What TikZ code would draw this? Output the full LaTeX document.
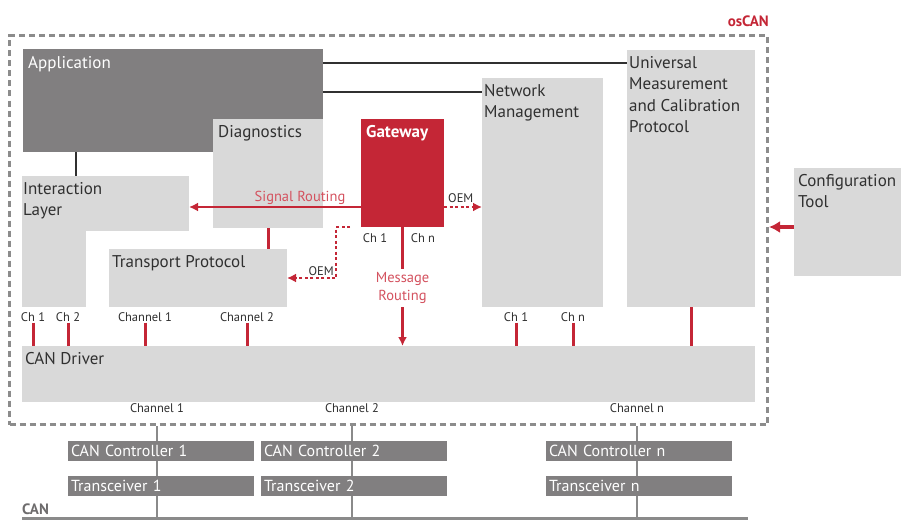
\documentclass[tikz,border=0pt]{standalone}
\usepackage{fontspec}
\setmainfont{PT Sans}
\usetikzlibrary{positioning,arrows.meta}
\definecolor{appgray}{HTML}{817F80}
\definecolor{boxgray}{HTML}{D9D9D9}
\definecolor{gwred}{HTML}{C42636}
\definecolor{routered}{HTML}{D4525F}
\definecolor{framegray}{HTML}{8C8C8C}
\definecolor{textgray}{HTML}{303030}
\definecolor{busgray}{HTML}{8A8A8A}
\tikzset{
	layer/.style={
		rectangle,
		fill=boxgray,
		anchor=north west,
		inner sep=0pt,
		outer sep=0pt,
	},
	dark-layer/.style={
		layer,
		fill=appgray,
	},
	gateway/.style={
		layer,
		fill=gwred,
	},
	box-title/.style={
		anchor=north west,
		align=left,
		inner xsep=3pt,
		inner ysep=6pt,
		text=textgray,
		font=\fontsize{17}{21.5}\selectfont,
	},
	hw-box/.style={
		rectangle,
		fill=appgray,
		minimum width=186pt,
		minimum height=20pt,
		inner xsep=3pt,
		inner ysep=0pt,
		outer sep=0pt,
		text=white,
		text width=180pt,
		align=left,
		font=\fontsize{16}{18}\selectfont,
	},
	ch-label/.style={
		inner sep=1pt,
		text=textgray,
		font=\fontsize{12.5}{14}\selectfont,
	},
	ch-line/.style={
		draw=gwred,
		line width=3pt,
	},
	link/.style={
		draw=textgray,
		line width=2.5pt,
	},
	routing/.style={
		draw=gwred,
		line width=2.5pt,
		-{Latex[length=9pt,width=9pt]},
	},
	oem/.style={
		routing,
		dash pattern=on 3pt off 2.5pt,
	},
	route-label/.style={
		inner sep=2pt,
		align=center,
		text=routered,
		font=\fontsize{14.5}{18}\selectfont,
	},
	bus-line/.style={
		draw=busgray,
		line width=2.5pt,
	},
}

\begin{document}
\begin{tikzpicture}[x=1pt,y=-1pt]
	\path[use as bounding box,clip] (0,0) rectangle (901,522);

	% osCAN frame
	\node[draw=framegray,line width=3pt,dash pattern=on 6pt off 4pt,anchor=north west,inner sep=0pt,minimum width=758pt,minimum height=389pt] (oscan) at (8,34) {};
	\node[anchor=base east,inner sep=0pt,yshift=7pt,text=gwred,font=\bfseries\fontsize{15}{17}\selectfont] (oscan-t) at (oscan.north east) {osCAN};

	% layers
	\node[dark-layer,minimum width=300pt,minimum height=103pt] (app) at (23,49) {};
	\node[box-title,text=white,inner xsep=5pt,inner ysep=7pt] (app-t) at (app.north west) {Application};
	\node[layer,minimum width=110pt,minimum height=109pt] (diag) at (213,119) {};
	\node[box-title,inner xsep=5pt] (diag-t) at (diag.north west) {Diagnostics};
	\node[gateway,minimum width=83pt,minimum height=108pt] (gw) at (361,119) {};
	\node[box-title,text=white,inner xsep=5pt,font=\bfseries\fontsize{17}{21.5}\selectfont] (gw-t) at (gw.north west) {Gateway};
	\node[layer,minimum width=167pt,minimum height=55pt] (il) at (22,176) {};
	\fill[boxgray] (il.south west) rectangle ++(64,76);
	\node[box-title,inner xsep=1pt] (il-t) at (il.north west) {Interaction\\Layer};
	\node[layer,minimum width=178pt,minimum height=58pt] (tp) at (109,249) {};
	\node[box-title] (tp-t) at (tp.north west) {Transport Protocol};
	\node[layer,minimum width=121pt,minimum height=229pt] (nm) at (482,78) {};
	\node[box-title,inner xsep=2pt] (nm-t) at (nm.north west) {Network\\Management};
	\node[layer,minimum width=128pt,minimum height=257pt] (xcp) at (627,50) {};
	\node[box-title,inner xsep=2pt] (xcp-t) at (xcp.north west) {Universal\\Measurement\\and Calibration\\Protocol};
	\node[layer,minimum width=120pt,minimum height=108pt] (cfg) at (794,168) {};
	\node[box-title,inner xsep=4pt] (cfg-t) at (cfg.north west) {Configuration\\Tool};
	\node[layer,minimum width=733pt,minimum height=56pt] (drv) at (22,346) {};
	\node[box-title] (drv-t) at (drv.north west) {CAN Driver};

	% application links
	\coordinate (app-xcp) at ([yshift=-14pt]app.north east);
	\coordinate (app-nm) at ([yshift=-43pt]app.north east);
	\coordinate (app-il) at ([xshift=53pt]app.south west);
	\draw[link] (app-xcp) -- (app-xcp -| xcp.west);
	\draw[link] (app-nm) -- (app-nm -| nm.west);
	\draw[link] (app-il) -- (app-il |- il.north);

	% gateway routing
	\coordinate (gw-sig) at ([yshift=20pt]gw.south west);
	\coordinate (gw-oem) at ([yshift=20pt]gw.south east);
	\coordinate (gw-tp) at ([xshift=-11pt]gw.south west);
	\draw[routing] (gw-sig) -- (gw-sig -| il.east);
	\node[route-label,anchor=south] (sig-t) at ([xshift=-61pt]gw-sig) {Signal Routing};
	\draw[oem] (gw-oem) -- (gw-oem -| nm.west);
	\node[ch-label,anchor=south west] (oem-t) at ([xshift=3pt,yshift=3pt]gw-oem) {OEM};
	\draw[oem] (gw-tp) -- ++(-14,0) |- (tp.east);
	\node[ch-label,anchor=south east] (oem2-t) at (335,277) {OEM};
	\node[ch-label] (gw-ch1) at (375,238) {Ch 1};
	\node[ch-label] (gw-chn) at (423,238) {Ch n};
	\draw[routing] (gw.south) -- (gw.south |- drv.north);
	\node[route-label,fill=white,inner sep=3pt] (msg-t) at ([yshift=-61pt]gw.south) {Message\\Routing};
	\draw[ch-line] (diag.south) -- (diag.south |- tp.north);

	% channels into the driver
	\node[ch-label] (il-ch1) at (33,317) {Ch 1};
	\node[ch-label] (il-ch2) at (68,317) {Ch 2};
	\node[ch-label] (tp-ch1) at (145,317) {Channel 1};
	\node[ch-label] (tp-ch2) at (247,317) {Channel 2};
	\node[ch-label] (nm-ch1) at (516,317) {Ch 1};
	\node[ch-label] (nm-chn) at (573,317) {Ch n};
	\draw[ch-line] (il-ch1.south) -- (il-ch1.south |- drv.north);
	\draw[ch-line] (il-ch2.south) -- (il-ch2.south |- drv.north);
	\draw[ch-line] (tp-ch1.south) -- (tp-ch1.south |- drv.north);
	\draw[ch-line] (tp-ch2.south) -- (tp-ch2.south |- drv.north);
	\draw[ch-line] (nm-ch1.south) -- (nm-ch1.south |- drv.north);
	\draw[ch-line] (nm-chn.south) -- (nm-chn.south |- drv.north);
	\draw[ch-line] (xcp.south) -- (xcp.south |- drv.north);

	% configuration tool
	\coordinate (cfg-in) at ([yshift=-5pt]cfg.west);
	\draw[draw=gwred,line width=4pt,-{Latex[length=11pt,width=12pt]}] (cfg-in) -- (cfg-in -| oscan.east);

	% hardware and bus
	\node[ch-label] (drv-ch1) at (157,408) {Channel 1};
	\node[ch-label] (drv-ch2) at (352,408) {Channel 2};
	\node[ch-label] (drv-chn) at (637,408) {Channel n};
	\coordinate (bus-w) at (22,518);
	\coordinate (bus-e) at (748,518);
	\draw[bus-line] (drv-ch1 |- oscan.south) -- (drv-ch1 |- bus-w);
	\draw[bus-line] (drv-ch2 |- oscan.south) -- (drv-ch2 |- bus-w);
	\draw[bus-line] (drv-chn |- oscan.south) -- (drv-chn |- bus-w);
	\draw[bus-line,line width=3pt] (bus-w) -- (bus-e);
	\node[anchor=south west,inner sep=0pt,yshift=3pt,text=appgray!85!black,font=\bfseries\fontsize{15}{17}\selectfont] (can-t) at (bus-w) {CAN};
	\node[hw-box,anchor=north west] (ctl1) at (68,441) {CAN Controller 1};
	\node[hw-box,below=15pt of ctl1] (trx1) {Transceiver 1};
	\node[hw-box,anchor=north west] (ctl2) at (261,441) {CAN Controller 2};
	\node[hw-box,below=15pt of ctl2] (trx2) {Transceiver 2};
	\node[hw-box,anchor=north west] (ctln) at (546,441) {CAN Controller n};
	\node[hw-box,below=15pt of ctln] (trxn) {Transceiver n};
\end{tikzpicture}
\end{document}
